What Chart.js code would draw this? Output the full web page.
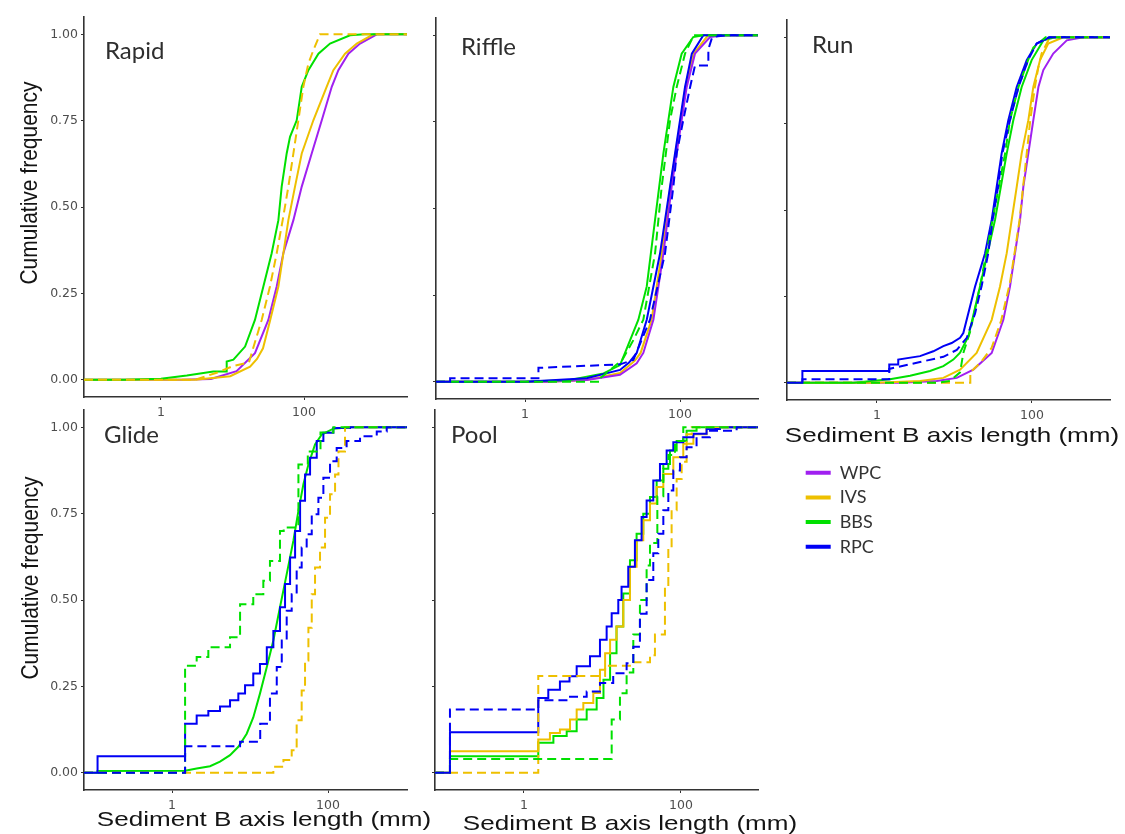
<!DOCTYPE html>
<html>
<head>
<meta charset="utf-8">
<title>Sediment B axis cumulative frequency</title>
<script src="https://cdn.jsdelivr.net/npm/chart.js@4.4.1/dist/chart.umd.min.js"></script>
<style>
  html, body { margin: 0; background: #fff; }
  #wrap { position: relative; width: 1125px; height: 834px; }
  #wrap canvas { position: absolute; left: 0; top: 0; }
</style>
</head>
<body>
<div id="wrap">
  <canvas id="rapid" width="1125" height="834"></canvas>
  <canvas id="riffle" width="1125" height="834"></canvas>
  <canvas id="run" width="1125" height="834"></canvas>
  <canvas id="glide" width="1125" height="834"></canvas>
  <canvas id="pool" width="1125" height="834"></canvas>
  <canvas id="key" width="1125" height="834"></canvas>
</div>
<script>
'use strict';

const methods = ['WPC', 'IVS', 'BBS', 'RPC'];
const colours = { WPC: '#a020f0', IVS: '#eec000', BBS: '#00e000', RPC: '#0000f5' };
const yTicks = [0, 0.25, 0.5, 0.75, 1];
const xTicks = [1, 100];

// each point: [B axis length (mm), cumulative frequency]
// ---- Rapid
const rapidWPC = [[0.084,0],[2,0],[5,0.002],[11.4,0.025],[20.6,0.077],[31.7,0.173],[41.5,0.27],[51.4,0.366],[71,0.462],[92.9,0.559],[128,0.655],[177,0.751],[244,0.848],[302,0.896],[417,0.944],[607,0.973],[1040,1],[2750,1]];
const rapidIVS = [[0.084,0],[3,0],[9.3,0.01],[17.6,0.038],[22,0.06],[26.7,0.091],[33.4,0.17],[43.8,0.27],[51.4,0.366],[60.4,0.462],[74.8,0.559],[92.9,0.655],[135,0.751],[207,0.848],[257,0.896],[374,0.944],[546,0.973],[933,1],[2750,1]];
const rapidBBS = [[0.084,0],[0.3,0],[1,0.003],[2.3,0.012],[5.4,0.024],[8.3,0.024],[8.3,0.053],[10.3,0.058],[15,0.096],[20.6,0.173],[27,0.27],[35.3,0.366],[43.8,0.462],[48.7,0.559],[57.2,0.655],[63.7,0.703],[79,0.751],[92.9,0.848],[115,0.896],[159,0.944],[231,0.973],[440,0.997],[700,1],[2750,1]];
const rapidIVSDash = [[0.084,0],[3,0],[6,0.02],[10.3,0.04],[17,0.05],[20,0.1],[25.6,0.173],[33.4,0.27],[41.5,0.366],[50.3,0.462],[60.4,0.559],[71,0.655],[83.3,0.751],[97.8,0.848],[115,0.915],[135,0.954],[167,1],[2750,1]];

// ---- Riffle
const riffleWPC = [[0.071,0],[2,0],[6.25,0.005],[16.8,0.02],[27.6,0.053],[33.6,0.083],[45.3,0.179],[61,0.37],[78,0.563],[105,0.755],[122,0.851],[156,0.947],[244,0.995],[380,1],[1014,1]];
const riffleIVS = [[0.071,0],[2,0],[6.25,0.005],[16.8,0.025],[26,0.06],[31,0.083],[43,0.179],[58,0.37],[75,0.563],[102,0.755],[118,0.851],[150,0.947],[230,1],[1014,1]];
const riffleBBS = [[0.071,0],[1,0],[3.8,0.005],[10.3,0.024],[16.8,0.048],[19.5,0.083],[29,0.179],[37.2,0.275],[47.6,0.467],[61,0.659],[82,0.851],[105,0.947],[148,0.995],[200,1],[1014,1]];
const riffleRPC = [[0.071,0],[1,0],[6.25,0.01],[16.8,0.034],[22,0.055],[27.6,0.083],[37.2,0.179],[55.2,0.37],[74.3,0.563],[100,0.755],[116,0.851],[142,0.947],[200,1],[1014,1]];
const riffleBBSDash = [[0.071,0],[9.3,0],[9.3,0.01],[18,0.063],[25,0.12],[33.6,0.179],[47.6,0.37],[58,0.563],[74.3,0.755],[90.6,0.851],[116,0.947],[150,1],[1014,1]];
const riffleRPCDash = [[0.071,0],[0.108,0],[0.108,0.01],[1.49,0.01],[1.49,0.04],[16.8,0.05],[25,0.063],[41,0.179],[64,0.37],[82,0.563],[90.6,0.659],[110,0.755],[135,0.851],[156,0.913],[232,0.913],[232,0.96],[260,0.995],[400,1],[1014,1]];

// ---- Run
const runWPC = [[0.069,0],[2,0],[5.89,0.005],[10.7,0.014],[17.5,0.038],[30.2,0.086],[42.7,0.182],[52,0.278],[60.4,0.375],[70,0.471],[77.3,0.567],[89.7,0.664],[104,0.76],[121,0.856],[140,0.905],[188,0.953],[281,0.991],[457,1],[1015,1]];
const runIVS = [[0.069,0],[1,0],[3.59,0.005],[7.18,0.014],[11.8,0.038],[19.3,0.086],[30.2,0.182],[38.6,0.278],[47.2,0.375],[54.7,0.471],[63.5,0.567],[73.6,0.664],[89.7,0.76],[104,0.856],[127,0.934],[162,0.982],[254,1],[1015,1]];
const runBBS = [[0.069,0],[0.5,0],[1.47,0.01],[2.67,0.02],[4.83,0.034],[7.18,0.048],[9.66,0.067],[11.8,0.087],[15.1,0.134],[21.3,0.278],[33.3,0.471],[47.2,0.664],[57.4,0.76],[73.6,0.856],[99,0.934],[140,0.991],[200,1],[1015,1]];
const runRPC = [[0.069,0],[0.109,0],[0.109,0.034],[1.44,0.034],[1.44,0.053],[1.88,0.053],[1.88,0.067],[3.59,0.077],[5.33,0.091],[7.18,0.106],[9.19,0.115],[11.8,0.13],[13,0.144],[18.4,0.278],[24.8,0.375],[30.2,0.471],[35,0.567],[40.6,0.664],[49.5,0.76],[63.5,0.856],[85.5,0.934],[115,0.982],[170,1],[1015,1]];
const runIVSDash = [[0.069,0],[16,0],[16,0.03],[22,0.06],[30,0.1],[40,0.18],[52,0.29],[60,0.38],[69,0.47],[77,0.57],[85.5,0.664],[95,0.76],[109,0.856],[120,0.91],[133,0.953],[170,1],[1015,1]];
const runBBSDash = [[0.069,0],[6,0],[8.75,0.005],[11.8,0.03],[13,0.086],[16,0.15],[21.3,0.278],[31,0.471],[45,0.664],[52,0.76],[67,0.856],[89,0.934],[104,0.97],[150,1],[1015,1]];
const runRPCDash = [[0.069,0],[0.109,0],[0.109,0.01],[1.44,0.01],[1.44,0.04],[3.59,0.06],[7.18,0.075],[10.7,0.095],[14.4,0.13],[18.4,0.2],[22.4,0.28],[27.3,0.375],[31,0.471],[36.5,0.567],[41.5,0.664],[52,0.76],[67,0.856],[89,0.934],[115,0.982],[165,1],[1015,1]];

// ---- Glide (step series list the size where each step rises)
const glideBBS = [[0.0744,0],[0.111,0],[0.111,0.005],[1.47,0.006],[2.07,0.0125],[3.07,0.019],[4.12,0.032],[5.54,0.051],[7.08,0.075],[9.06,0.113],[11,0.16],[13.4,0.229],[16.4,0.306],[19.9,0.383],[24.2,0.479],[29.5,0.575],[35.9,0.671],[41.7,0.758],[48.3,0.835],[56,0.892],[68.1,0.95],[83,0.979],[117,0.996],[191,1],[1028,1]];
const glideRPC = [[0.0744,0],[0.111,0.048],[1.47,0.142],[2.07,0.166],[2.92,0.179],[4.12,0.192],[5.54,0.21],[7.08,0.229],[8.63,0.253],[11,0.287],[13.4,0.315],[16.4,0.363],[19.9,0.41],[24.2,0.479],[28.1,0.546],[32.6,0.623],[37.8,0.7],[43.8,0.787],[50.7,0.863],[58.8,0.912],[71.6,0.96],[87.1,0.984],[117,0.998],[191,1],[1028,1]];
const glideIVSDash = [[0.0744,0],[19.9,0.017],[26.8,0.037],[34.2,0.065],[39.6,0.152],[45.9,0.238],[50.7,0.325],[56,0.42],[61.8,0.517],[68.1,0.594],[78.9,0.652],[91.5,0.738],[106,0.806],[123,0.863],[136,0.93],[165,1],[1028,1]];
const glideBBSDash = [[0.0744,0],[1.47,0.31],[2.07,0.335],[2.92,0.363],[5.54,0.392],[7.45,0.488],[11,0.517],[14.8,0.556],[18,0.613],[24.2,0.7],[27,0.71],[41.7,0.892],[55,0.93],[80,0.985],[117,1],[1028,1]];
const glideRPCDash = [[0.0744,0],[1.47,0.077],[7.45,0.09],[13.5,0.142],[18,0.229],[22,0.306],[25.5,0.383],[29.5,0.469],[34.2,0.517],[39.6,0.594],[45.9,0.652],[53.2,0.69],[61.8,0.748],[75.2,0.796],[87.1,0.854],[106,0.902],[129,0.94],[173,0.96],[257,0.974],[421,0.988],[565,1],[1028,1]];

// ---- Pool
const poolIVS = [[0.0735,0],[0.114,0.0625],[1.52,0.096],[2.14,0.115],[2.87,0.125],[3.86,0.154],[4.69,0.183],[5.7,0.202],[7.64,0.231],[9.29,0.298],[10.8,0.346],[12.5,0.385],[15.1,0.423],[18.4,0.5],[22.4,0.596],[27.2,0.673],[33.1,0.731],[40.3,0.779],[49,0.827],[59.6,0.865],[79.9,0.913],[107,0.952],[144,0.98],[212,0.998],[314,1],[958,1]];
const poolBBS = [[0.0735,0],[0.114,0.048],[1.52,0.087],[2.37,0.106],[3.5,0.12],[4.69,0.154],[6.29,0.183],[8.43,0.216],[10.3,0.269],[12.5,0.346],[15.1,0.423],[18.4,0.519],[22.4,0.615],[27.2,0.692],[33.1,0.75],[40.3,0.798],[49,0.846],[59.6,0.894],[72.4,0.933],[88.1,0.96],[118,0.99],[158,1],[958,1]];
const poolRPC = [[0.0735,0],[0.114,0.117],[1.52,0.216],[2.04,0.24],[2.87,0.264],[3.8,0.279],[4.69,0.308],[6.93,0.337],[9.29,0.385],[11.3,0.423],[13.1,0.462],[15.9,0.5],[17.5,0.538],[21.3,0.596],[25.9,0.673],[31.5,0.74],[36.5,0.788],[44.4,0.846],[54,0.894],[65.7,0.933],[79.9,0.957],[107,0.971],[144,0.981],[212,0.995],[314,1],[958,1]];
const poolIVSDash = [[0.0735,0],[1.52,0.28],[10.8,0.31],[24.7,0.32],[40.3,0.34],[46.6,0.4],[62.5,0.54],[69,0.65],[76,0.76],[88.1,0.85],[102,0.9],[118,0.98],[137,1],[958,1]];
const poolBBSDash = [[0.0735,0],[0.114,0.04],[13.1,0.154],[16.7,0.23],[20.3,0.29],[24.7,0.4],[30,0.5],[36.5,0.6],[40.3,0.665],[50,0.8],[59.6,0.88],[69,0.92],[83.9,0.96],[107,1],[958,1]];
const poolRPCDash = [[0.0735,0],[0.114,0.183],[1.52,0.21],[3.86,0.22],[6.29,0.235],[9.29,0.26],[13.7,0.288],[20.3,0.317],[24.7,0.365],[30,0.46],[36.5,0.558],[44.4,0.635],[51.4,0.692],[59.6,0.76],[69,0.817],[79.9,0.875],[97.1,0.913],[118,0.942],[158,0.971],[234,0.99],[512,1],[958,1]];

function series(method, pts, dashed, stepped) {
  return {
    label: method,
    data: pts.map(p => ({ x: p[0], y: p[1] })),
    borderColor: colours[method],
    backgroundColor: colours[method],
    borderWidth: 2,
    borderDash: dashed ? [9, 5] : [],
    stepped: stepped ? 'before' : false,
    pointRadius: 0,
    tension: 0,
    fill: false
  };
}

// panel name, y title and x title drawn over each panel
const panelText = {
  id: 'panelText',
  afterDraw(chart, args, o) {
    const ctx = chart.ctx;
    const area = chart.chartArea;
    ctx.save();
    ctx.fillStyle = '#2e2e2e';
    ctx.font = '24px Lato';
    ctx.textAlign = 'left';
    ctx.textBaseline = 'alphabetic';
    ctx.fillText(o.name, area.left + o.nameAt[0], area.top + o.nameAt[1]);

    ctx.fillStyle = '#141414';
    ctx.font = '21px "Liberation Sans"';
    ctx.textAlign = 'center';
    if (o.yTitle) {
      ctx.save();
      ctx.translate(o.yTitle[0], o.yTitle[1]);
      ctx.rotate(-Math.PI / 2);
      ctx.scale(1, 1.12);
      ctx.textBaseline = 'middle';
      ctx.fillText('Cumulative frequency', 0, 0);
      ctx.restore();
    }
    if (o.xTitle) {
      ctx.save();
      ctx.translate(o.xTitle[0], o.xTitle[1]);
      ctx.scale(1.24, 1);
      ctx.fillText('Sediment B axis length (mm)', 0, 0);
      ctx.restore();
    }
    ctx.restore();
  }
};

const Y_W = 60, X_H = 22;
const tickFont = { family: 'DejaVu Sans', size: 12.5 };

function panel(id, cfg) {
  const [l, t, r, b] = cfg.area;
  return new Chart(document.getElementById(id), {
    type: 'line',
    data: { datasets: cfg.datasets },
    plugins: [panelText],
    options: {
      responsive: false,
      animation: false,
      devicePixelRatio: 1,
      layout: { padding: { left: l - Y_W, top: t, right: 1125 - r, bottom: 834 - b - X_H } },
      plugins: {
        legend: { display: false },
        tooltip: { enabled: false },
        panelText: cfg.text
      },
      scales: {
        x: {
          type: 'logarithmic',
          min: cfg.xRange[0],
          max: cfg.xRange[1],
          afterBuildTicks: s => { s.ticks = xTicks.map(v => ({ value: v })); },
          afterFit: s => { s.height = X_H; },
          ticks: { callback: v => String(v), color: '#4d4d4d', font: tickFont, padding: 5, maxRotation: 0, autoSkip: false },
          grid: { drawOnChartArea: false, tickLength: 3, color: '#333' },
          border: { color: '#333', width: 1.6 }
        },
        y: {
          type: 'linear',
          min: -0.05,
          max: 1.05,
          afterBuildTicks: s => { s.ticks = yTicks.map(v => ({ value: v })); },
          afterFit: s => { s.width = Y_W; },
          ticks: { display: cfg.yLabels, callback: v => v.toFixed(2), color: '#4d4d4d', font: tickFont, padding: 3 },
          grid: { drawOnChartArea: false, tickLength: 3, color: '#333' },
          border: { color: '#333', width: 1.6 }
        }
      }
    }
  });
}

panel('rapid', {
  area: [84, 17, 407, 397],
  xRange: [0.084, 2750],
  yLabels: true,
  text: { name: 'Rapid', nameAt: [21, 42], yTitle: [31, 183] },
  datasets: [
    series('IVS', rapidIVSDash, true),
    series('BBS', rapidBBS),
    series('IVS', rapidIVS),
    series('WPC', rapidWPC)
  ]
});

panel('riffle', {
  area: [436, 18, 758, 399],
  xRange: [0.071, 1014],
  yLabels: false,
  text: { name: 'Riffle', nameAt: [25, 37] },
  datasets: [
    series('RPC', riffleRPCDash, true),
    series('BBS', riffleBBSDash, true),
    series('RPC', riffleRPC),
    series('BBS', riffleBBS),
    series('WPC', riffleWPC),
    series('IVS', riffleIVS)
  ]
});

panel('run', {
  area: [787, 20, 1110, 400],
  xRange: [0.069, 1015],
  yLabels: false,
  text: { name: 'Run', nameAt: [25, 33], xTitle: [952, 442] },
  datasets: [
    series('RPC', runRPCDash, true),
    series('BBS', runBBSDash, true),
    series('IVS', runIVSDash, true),
    series('RPC', runRPC),
    series('BBS', runBBS),
    series('IVS', runIVS),
    series('WPC', runWPC)
  ]
});

panel('glide', {
  area: [84, 410, 407, 790],
  xRange: [0.0744, 1028],
  yLabels: true,
  text: { name: 'Glide', nameAt: [20, 33], yTitle: [32, 578], xTitle: [264, 826] },
  datasets: [
    series('RPC', glideRPCDash, true, true),
    series('BBS', glideBBSDash, true, true),
    series('IVS', glideIVSDash, true, true),
    series('RPC', glideRPC, false, true),
    series('BBS', glideBBS)
  ]
});

panel('pool', {
  area: [435, 410, 758, 790],
  xRange: [0.0735, 958],
  yLabels: false,
  text: { name: 'Pool', nameAt: [16, 33], xTitle: [630, 830] },
  datasets: [
    series('RPC', poolRPCDash, true, true),
    series('BBS', poolBBSDash, true, true),
    series('IVS', poolIVSDash, true, true),
    series('RPC', poolRPC, false, true),
    series('IVS', poolIVS, false, true),
    series('BBS', poolBBS, false, true)
  ]
});

// shared colour key
new Chart(document.getElementById('key'), {
  type: 'line',
  data: {
    datasets: methods.map(m => ({ label: m, data: [], borderColor: colours[m], backgroundColor: colours[m], borderWidth: 0 }))
  },
  options: {
    responsive: false,
    animation: false,
    devicePixelRatio: 1,
    layout: { padding: { left: 799, top: 457 } },
    scales: { x: { display: false }, y: { display: false } },
    plugins: {
      tooltip: { enabled: false },
      legend: {
        position: 'left',
        align: 'start',
        labels: { boxWidth: 25, boxHeight: 4, padding: 6.7, color: '#333', font: { family: 'Lato', size: 18 } }
      }
    }
  }
});
</script>
</body>
</html>
